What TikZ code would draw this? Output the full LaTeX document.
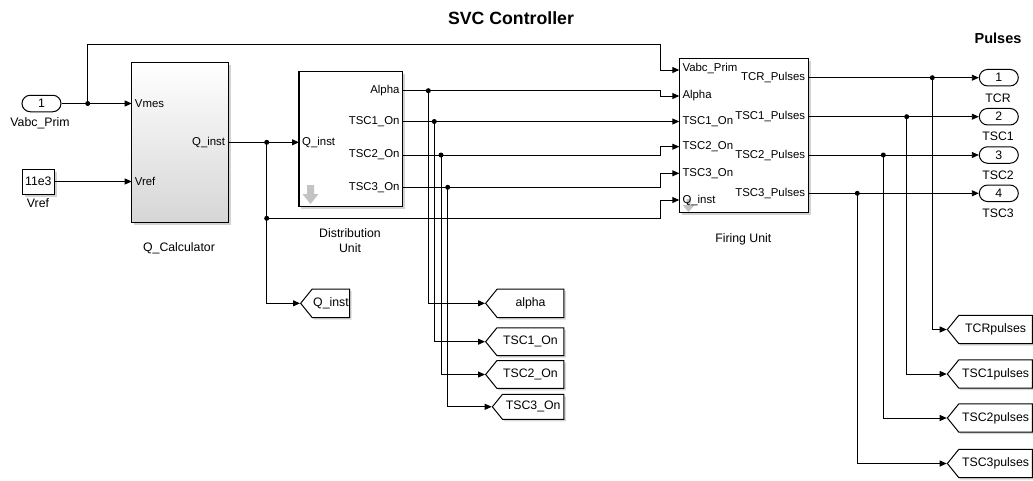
\documentclass[tikz,border=0pt]{standalone}
\usepackage{fontspec}
\setmainfont{Liberation Sans}
\usetikzlibrary{arrows.meta, positioning, calc, shadows, shapes.misc, shapes.symbols}
\definecolor{wire}{RGB}{0, 0, 0}
\definecolor{iconA}{RGB}{195, 195, 195}
\definecolor{shadeA}{RGB}{214, 214, 214}

\tikzset{
  blk/.style={draw=wire, line width=1.2pt, fill=white, inner sep=0pt,
    drop shadow={shadow xshift=2.5pt, shadow yshift=-2.5pt, opacity=0.35}},
  portlbl/.style={font=\fontsize{11.4}{13}\selectfont, inner sep=1pt},
  lbl/.style={font=\fontsize{12.3}{14.5}\selectfont, align=center, inner sep=0pt},
  sig/.style={draw=wire, line width=0.9pt, -{Triangle[length=7pt, width=6pt]}},
  wireline/.style={draw=wire, line width=0.9pt},
  jdot/.style={circle, fill=wire, inner sep=0pt, minimum size=5pt},
  iop/.style={draw=wire, rounded rectangle, line width=1pt, fill=white, minimum width=39pt,
    minimum height=16.5pt, inner sep=0pt, font=\fontsize{12.3}{14}\selectfont},
  gotag/.style={draw=wire, signal, signal to=west, signal from=nowhere, signal pointer angle=102,
    line width=1pt, fill=white, inner sep=1pt, anchor=west, font=\fontsize{12.3}{14}\selectfont,
    drop shadow={shadow xshift=2pt, shadow yshift=-2pt, opacity=0.3}},
}

\begin{document}
\begin{tikzpicture}[x=1pt, y=-1pt]
                \path[use as bounding box, fill=white] (0,0) rectangle (1033,480);
                % Titles
                \node[font=\bfseries\fontsize{17.7}{20}\selectfont] (title) at (511,18.3) {SVC Controller};
                \node[font=\bfseries\fontsize{14.5}{17}\selectfont] (pulses) at (998,38.3) {Pulses};

                % Sources
                \node[iop] (vin) at (41.5,103.5) {1};
                \node[lbl] (vinlbl) at (40,123) {Vabc\_Prim};
                \node[blk, line width=1pt, minimum width=32pt, minimum height=25pt,
                  font=\fontsize{12.3}{14}\selectfont] (vref) at (38.3,181.5) {11e3};
                \node[lbl] (vreflbl) at (38,203.3) {Vref};

                % Q_Calculator
                \node[blk, top color=white, bottom color=shadeA, minimum width=96.6pt,
                  minimum height=160pt] (qcalc) at (180,142.3) {};
                \node[lbl] (qcalclbl) at (179,248) {Q\_Calculator};
                \coordinate (qc-vmes) at (131.7,103.5);
                \coordinate (qc-vref) at (131.7,181.5);
                \coordinate (qc-q) at (228.3,142.3);
                \node[portlbl, anchor=west] (t-vmes) at ([xshift=2pt]qc-vmes) {Vmes};
                \node[portlbl, anchor=west] (t-vref) at ([xshift=2pt]qc-vref) {Vref};
                \node[portlbl, anchor=east] (t-qcq) at ([xshift=-2pt]qc-q) {Q\_inst};

                % Distribution Unit
                \node[blk, minimum width=103.7pt, minimum height=135pt] (dunit) at (350.8,139.2) {};
                \node[lbl] (dunitlbl) at (350,240.5) {Distribution\\Unit};
                \fill[iconA] (307,185) -- (314,185) -- (314,194) -- (318.5,194) -- (310.5,204)
                  -- (302.5,194) -- (307,194) -- cycle;
                \coordinate (du-q) at (299,142.3);
                \coordinate (du-a) at (402.7,90.7);
                \coordinate (du-t1) at (402.7,121.5);
                \coordinate (du-t2) at (402.7,155);
                \coordinate (du-t3) at (402.7,187.3);
                \node[portlbl, anchor=west] (t-duq) at ([xshift=2pt]du-q) {Q\_inst};
                \node[portlbl, anchor=east] (t-dua) at ([xshift=-2pt]du-a) {Alpha};
                \node[portlbl, anchor=east] (t-du1) at ([xshift=-2pt]du-t1) {TSC1\_On};
                \node[portlbl, anchor=east] (t-du2) at ([xshift=-2pt]du-t2) {TSC2\_On};
                \node[portlbl, anchor=east] (t-du3) at ([xshift=-2pt]du-t3) {TSC3\_On};

                % Firing Unit
                \node[blk, minimum width=129pt, minimum height=154.4pt] (fire) at (743.8,135.5) {};
                \node[lbl] (firelbl) at (743.3,239) {Firing Unit};
                \fill[iconA] (686.5,199) -- (690.5,199) -- (690.5,205) -- (694.5,205) -- (688.5,212)
                  -- (682.5,205) -- (686.5,205) -- cycle;
                \coordinate (fu-v) at (679.3,70);
                \coordinate (fu-a) at (679.3,96);
                \coordinate (fu-t1) at (679.3,121.5);
                \coordinate (fu-t2) at (679.3,146.7);
                \coordinate (fu-t3) at (679.3,173.3);
                \coordinate (fu-q) at (679.3,200);
                \coordinate (fu-p0) at (808.3,77.7);
                \coordinate (fu-p1) at (808.3,116.7);
                \coordinate (fu-p2) at (808.3,155);
                \coordinate (fu-p3) at (808.3,193.3);
                \node[portlbl, anchor=west] (t-fuv) at ([xshift=2pt,yshift=1.5pt]fu-v) {Vabc\_Prim};
                \node[portlbl, anchor=west] (t-fua) at ([xshift=2pt]fu-a) {Alpha};
                \node[portlbl, anchor=west] (t-fu1) at ([xshift=2pt]fu-t1) {TSC1\_On};
                \node[portlbl, anchor=west] (t-fu2) at ([xshift=2pt]fu-t2) {TSC2\_On};
                \node[portlbl, anchor=west] (t-fu3) at ([xshift=2pt]fu-t3) {TSC3\_On};
                \node[portlbl, anchor=west] (t-fuq) at ([xshift=2pt]fu-q) {Q\_inst};
                \node[portlbl, anchor=east] (t-fp0) at ([xshift=-2pt]fu-p0) {TCR\_Pulses};
                \node[portlbl, anchor=east] (t-fp1) at ([xshift=-2pt]fu-p1) {TSC1\_Pulses};
                \node[portlbl, anchor=east] (t-fp2) at ([xshift=-2pt]fu-p2) {TSC2\_Pulses};
                \node[portlbl, anchor=east] (t-fp3) at ([xshift=-2pt]fu-p3) {TSC3\_Pulses};

                % Outports
                \node[iop] (out1) at (998.8,77.7) {1};
                \node[iop] (out2) at (998.8,116.7) {2};
                \node[iop] (out3) at (998.8,155) {3};
                \node[iop] (out4) at (998.8,193.3) {4};
                \node[lbl] (out1lbl) at (998,98.3) {TCR};
                \node[lbl] (out2lbl) at (998,136.7) {TSC1};
                \node[lbl] (out3lbl) at (998,175) {TSC2};
                \node[lbl] (out4lbl) at (998,213) {TSC3};

                % Goto tags
                \node[gotag, minimum width=45pt, minimum height=28.5pt] (gq) at (300,303.3) {Q\_inst};
                \node[gotag, minimum width=78.3pt, minimum height=28.4pt] (ga) at (485,303.3) {alpha};
                \node[gotag, minimum width=78.3pt, minimum height=27.7pt] (gt1) at (485,341.7) {TSC1\_On};
                \node[gotag, minimum width=78.3pt, minimum height=27.7pt] (gt2) at (485,374.5) {TSC2\_On};
                \node[gotag, minimum width=71.6pt, minimum height=25pt] (gt3) at (491.7,406.8) {TSC3\_On};
                \node[gotag, minimum width=85pt, minimum height=28.4pt] (gtcr) at (946.7,329.5) {TCRpulses};
                \node[gotag, minimum width=85pt, minimum height=28.4pt] (gts1) at (946.7,374) {TSC1pulses};
                \node[gotag, minimum width=85pt, minimum height=28.4pt] (gts2) at (946.7,418) {TSC2pulses};
                \node[gotag, minimum width=85pt, minimum height=28.4pt] (gts3) at (946.7,463.5) {TSC3pulses};

                % Junctions
                \coordinate (bus) at (660,0);
                \coordinate (over) at (660,44.5);
                \node[jdot] (j-v) at (87.7,103.5) {};
                \node[jdot] (j-q1) at (266.7,142.3) {};
                \node[jdot] (j-q2) at (266.7,218.3) {};
                \node[jdot] (j-a) at (428.3,90.7) {};
                \node[jdot] (j-t1) at (434.3,121.5) {};
                \node[jdot] (j-t2) at (441,155) {};
                \node[jdot] (j-t3) at (447.7,187.3) {};
                \node[jdot] (j-p0) at (932.3,77.7) {};
                \node[jdot] (j-p1) at (906.7,116.7) {};
                \node[jdot] (j-p2) at (883.3,155) {};
                \node[jdot] (j-p3) at (857.3,193.3) {};

                % Signals
                \draw[sig] (vin.east) -- (qc-vmes);
                \draw[sig] (j-v.center) |- (over) |- (fu-v);
                \draw[sig] (vref.east) -- (qc-vref);
                \draw[sig] (qc-q) -- (du-q);
                \draw[sig] (j-q1.center) |- (gq.west);
                \draw[sig] (j-q2.center) -| (bus |- fu-q) -- (fu-q);
                \draw[sig] (du-a) -| (bus |- fu-a) -- (fu-a);
                \draw[sig] (du-t1) -- (fu-t1);
                \draw[sig] (du-t2) -| (bus |- fu-t2) -- (fu-t2);
                \draw[sig] (du-t3) -| (bus |- fu-t3) -- (fu-t3);
                \draw[sig] (j-a.center) |- (ga.west);
                \draw[sig] (j-t1.center) |- (gt1.west);
                \draw[sig] (j-t2.center) |- (gt2.west);
                \draw[sig] (j-t3.center) |- (gt3.west);
                \draw[sig] (fu-p0) -- (out1.west);
                \draw[sig] (fu-p1) -- (out2.west);
                \draw[sig] (fu-p2) -- (out3.west);
                \draw[sig] (fu-p3) -- (out4.west);
                \draw[sig] (j-p0.center) |- (gtcr.west);
                \draw[sig] (j-p1.center) |- (gts1.west);
                \draw[sig] (j-p2.center) |- (gts2.west);
                \draw[sig] (j-p3.center) |- (gts3.west);
            \end{tikzpicture}
\end{document}
